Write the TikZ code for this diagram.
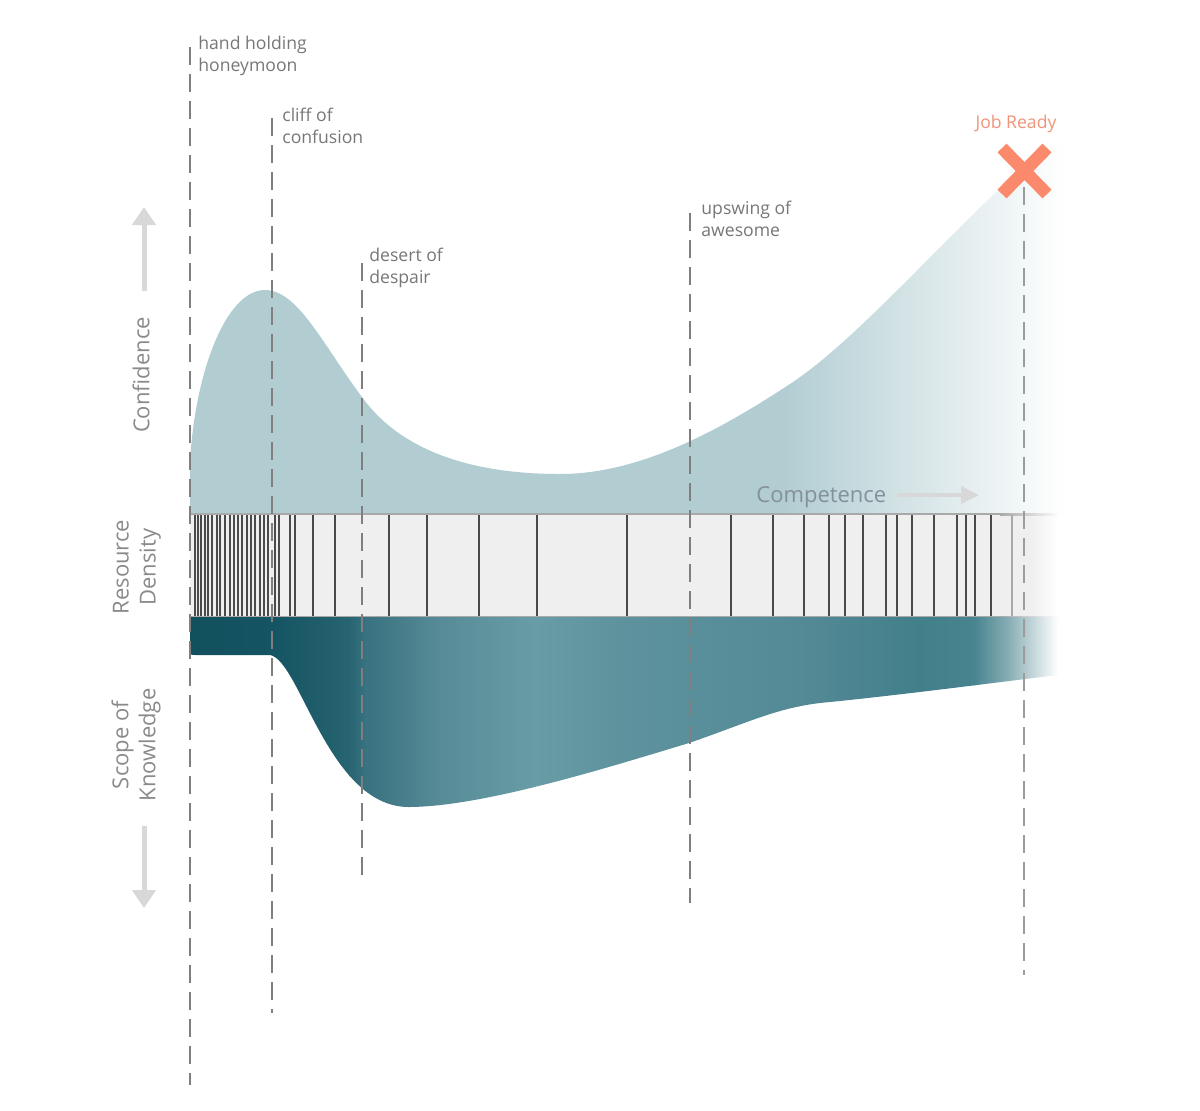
\documentclass[tikz,border=0pt]{standalone}
\usepackage{fontspec}
\setmainfont{Open Sans}
\usetikzlibrary{arrows.meta}
\definecolor{conf}{HTML}{B1CDD2}
\definecolor{barfill}{HTML}{EFEFEF}
\definecolor{barline}{HTML}{4A4A4A}
\definecolor{barborder}{HTML}{A9A9A9}
\definecolor{dashgray}{HTML}{7F7F7F}
\definecolor{dashlight}{HTML}{9C9C9C}
\definecolor{labgray}{HTML}{777777}
\definecolor{sidegray}{HTML}{8A8A8A}
\definecolor{compgray}{HTML}{84909A}
\definecolor{arrgray}{HTML}{D8D8D8}
\definecolor{salmon}{HTML}{FA8A6B}
\definecolor{jobtext}{HTML}{EF9479}
\definecolor{ka}{HTML}{12505E}
\definecolor{kb}{HTML}{155462}
\definecolor{kc}{HTML}{286472}
\definecolor{kd}{HTML}{387180}
\definecolor{ke}{HTML}{578B97}
\definecolor{kf}{HTML}{689DA7}
\definecolor{kg}{HTML}{5E939E}
\definecolor{kh}{HTML}{598F9A}
\definecolor{ki}{HTML}{548A96}
\definecolor{kj}{HTML}{417F8B}
\definecolor{kk}{HTML}{488490}
\definecolor{kl}{HTML}{8AAFB6}
\begin{document}
\begin{tikzpicture}[x=0.5pt,y=-0.5pt,
  phase/.style={draw=dashgray, line width=1.25pt, dash pattern=on 9pt off 4.5pt},
  phaselight/.style={draw=dashlight, line width=1.1pt, dash pattern=on 9pt off 4.5pt},
  lab/.style={font=\fontsize{8.8}{10.7}\selectfont, text=labgray, align=left, anchor=north west, inner sep=0pt},
  side/.style={font=\fontsize{11}{13.5}\selectfont, text=sidegray, align=center, rotate=90, inner sep=0pt},
  tick/.style={draw=barline, line width=1.15pt},
  bigarrow/.style={draw=arrgray, line width=2.5pt, -{Triangle[length=9pt,width=11.5pt]}},
  comparrow/.style={draw=arrgray, line width=2pt, -{Triangle[length=9pt,width=8.5pt]}}
]
\useasboundingbox (0,0) rectangle (1200,1110);
\fill[white] (0,0) rectangle (1200,1110);

% ---- confidence (upper) shape
\begin{scope}
\clip (190,514) -- (190,462)
  .. controls (195,372) and (226,290) .. (265,290)
  .. controls (298,290) and (323,345) .. (362,397)
  .. controls (400,450) and (470,474) .. (560,474)
  .. controls (640,474) and (720,430) .. (790,384)
  .. controls (860,338) and (950,230) .. (1040,152)
  -- (1066,140) -- (1066,514) -- cycle;
\fill[conf] (180,100) rectangle (782,520);
\shade[left color=conf,right color=white] (780,100) rectangle (1066,520);
\end{scope}

% ---- resource density bar
\fill[barfill] (190,514) rectangle (1031,617);
\shade[left color=barfill,right color=white] (1030,514) rectangle (1058,617);
\shade[left color=barborder,right color=white] (1000,513) rectangle (1060,515);
\shade[left color=barborder,right color=white] (1000,616) rectangle (1060,618);
\fill[barborder] (190,513) rectangle (1001,515);
\fill[barborder] (190,616) rectangle (1001,618);
\foreach \t in {195,198,201,205,208,212,217,220,225,230,234,238,242,247,251,255,260,264,268,275,279,290,295,313,335,389,427,479,537,627,731,773,804,829,845,863,886,897,912,934,957,966,975,991}
  \draw[tick] (\t,515) -- (\t,616);
\draw[draw=barborder, line width=1pt] (1012,515) -- (1012,616);

% ---- scope of knowledge (lower) shape
\begin{scope}
\clip (190,617) -- (190,650) .. controls (190,655) .. (196,655) -- (270,655)
  .. controls (300,660) and (328,806) .. (408,807)
  .. controls (480,807) and (600,770) .. (689,743)
  .. controls (750,722) and (780,706) .. (830,702)
  .. controls (900,695) and (1000,682) .. (1058,675)
  -- (1058,617) -- cycle;
\foreach \xa/\ca/\xb/\cb in {190/ka/275/kb, 275/kb/350/kc, 350/kc/365/kd, 365/kd/440/ke, 440/ke/535/kf, 535/kf/620/kg, 620/kg/700/kh, 700/kh/800/ki, 800/ki/920/kj, 920/kj/975/kk, 975/kk/1010/kl, 1010/kl/1058/white}
  \shade[left color=\ca,right color=\cb] (\xa-1,600) rectangle (\xb,830);
\end{scope}

% ---- phase lines
\coordinate (p1t) at (190,47);  \coordinate (p1b) at (190,1085);
\coordinate (p2t) at (272,118); \coordinate (p2b) at (272,1013);
\coordinate (p3t) at (362,263); \coordinate (p3b) at (362,883);
\coordinate (p4t) at (690,213); \coordinate (p4b) at (690,903);
\coordinate (p5t) at (1024,187); \coordinate (p5b) at (1024,975);
\draw[phase] (p1t) -- (p1b);
\draw[phase] (p2t) -- (p2b);
\draw[phase] (p3t) -- (p3b);
\draw[phase] (p4t) -- (p4b);
\draw[phaselight] (p5t) -- (p5b);

% ---- phase labels
\node[lab] (honey) at (198,36) {hand holding\\honeymoon};
\node[lab] (cliff) at (282,108) {cliff of\\confusion};
\node[lab] (desert) at (369,248) {desert of\\despair};
\node[lab] (upswing) at (701,201) {upswing of\\awesome};

% ---- job ready
\node[font=\fontsize{8.8}{10.7}\selectfont, text=jobtext, anchor=base, inner sep=0pt] (job) at (1016,128) {Job Ready};
\coordinate (xa) at (1002,148); \coordinate (xb) at (1047,194);
\coordinate (xc) at (1047,148); \coordinate (xd) at (1002,194);
\draw[salmon, line width=6.3pt] (xa) -- (xb);
\draw[salmon, line width=6.3pt] (xc) -- (xd);

% ---- competence
\node[font=\fontsize{11}{13.5}\selectfont, text=compgray, anchor=base west, inner sep=0pt] (comp) at (756,502) {Competence};
\coordinate (ca) at (897,495); \coordinate (cb) at (979,495);
\draw[comparrow] (ca) -- (cb);

% ---- side labels
\node[side] (confl) at (141,375) {Confidence};
\node[side] (resl) at (137,567) {Resource\\Density};
\node[side] (scopel) at (136,745) {Scope of\\Knowledge};
\coordinate (ua) at (144,291); \coordinate (ub) at (144,207);
\coordinate (da) at (144,826); \coordinate (db) at (144,908);
\draw[bigarrow] (ua) -- (ub);
\draw[bigarrow] (da) -- (db);
\end{tikzpicture}
\end{document}
